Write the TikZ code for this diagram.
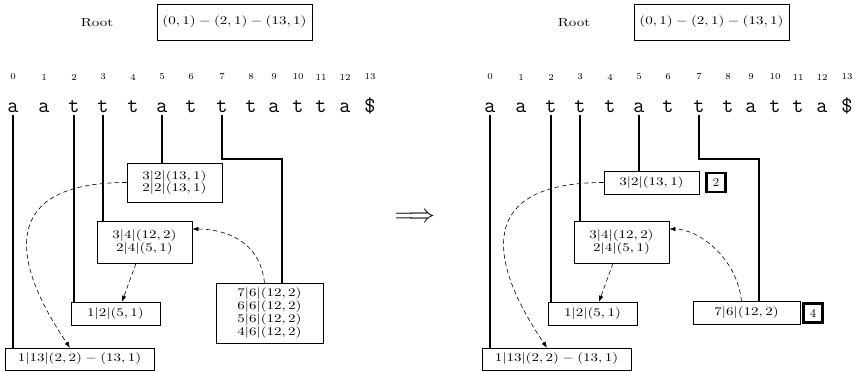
\documentclass[tikz,border=0pt]{standalone}
\usepackage{amsmath,amssymb}
\usetikzlibrary{arrows.meta,calc,positioning}

\newdimen\pxu \pxu=0.667pt
\newdimen\pyu \pyu=0.855pt

\tikzset{
  lbl/.style={yscale=.78},
  tnode/.style={draw,line width=.5pt,yscale=.78,inner sep=1pt,align=center,
    font=\fontsize{10}{9.5}\selectfont},
  badge/.style={draw,line width=1.6pt,minimum size=12.7pt,inner sep=0pt,font=\footnotesize},
  chr/.style={anchor=base,inner sep=2pt,font=\Large\ttfamily},
  idx/.style={inner sep=0pt,font=\fontsize{6}{7}\selectfont},
  sfx/.style={line width=1.2pt},
  suf/.style={densely dashed,-{Latex[length=4pt,width=3pt]}},
}

\begin{document}
\begin{tikzpicture}[x=0.667pt,y=-0.667pt]
  \useasboundingbox (0,0) rectangle (858,371);

  % both panels: string, root and the boxes that stay
  \foreach \p/\dx/\ta/\ha/\tb/\hb in {
      L/0/{$3|2|(13,1)$\\$2|2|(13,1)$}/39/{$7|6|(12,2)$\\$6|6|(12,2)$\\$5|6|(12,2)$\\$4|6|(12,2)$}/60,
      R/477/{$3|2|(13,1)$}/23/{$7|6|(12,2)$}/23}{
    \node[lbl] (\p root) at (\dx+97,23) {Root};
    \node[tnode,minimum width=155\pxu,minimum height=36\pyu] (\p rbox) at (\dx+234.5,22) {$(0,1)-(2,1)-(13,1)$};

    \foreach \i/\x/\c in {0/13/a,1/44/a,2/74/t,3/103/t,4/133/t,5/162/a,6/191/t,
        7/222/t,8/251/t,9/274/a,10/298/t,11/321/t,12/345/a,13/370/\$}{
      \node[idx] (\p n\i) at (\dx+\x,77) {\i};
      \node[chr] (\p a\i) at (\dx+\x,112) {\c};
    }

    \node[tnode,minimum width=95\pxu,minimum height=\ha\pyu] (\p b32) at (\dx+174.5,182.5) {\ta};
    \node[tnode,minimum width=95\pxu,minimum height=42\pyu] (\p b34) at (\dx+144.5,242) {$3|4|(12,2)$\\$2|4|(5,1)$};
    \node[tnode,minimum width=89\pxu,minimum height=23\pyu] (\p b12) at (\dx+115.5,313.5) {$1|2|(5,1)$};
    \node[tnode,minimum width=107\pxu,minimum height=\hb\pyu] (\p b76) at (\dx+269.5,313) {\tb};
    \node[tnode,minimum width=149\pxu,minimum height=22\pyu] (\p b113) at (\dx+79.5,359) {$1|13|(2,2)-(13,1)$};

    \foreach \k/\b in {0/b113,2/b12,3/b34,5/b32}
      \draw[sfx] (\p a\k.south) -- (\p a\k.south |- \p\b.north);
    \coordinate (\p bend) at (\dx+282,159);
    \draw[sfx] (\p a7.south) |- (\p bend) -- (\p bend |- \p b76.north);

    \draw[suf] (\p b32.west) .. controls +(-127,0) and +(-60,-88) .. ($(\p b113.north)+(-9.5,0)$);
    \draw[suf] ($(\p b34.south)+(-8.5,0)$) -- ($(\p b12.north)+(6.5,0)$);
    \draw[suf] ($(\p b76.north)+(-5,0)$) .. controls +(-5,-45) and +(28,0) .. ($(\p b34.east)+(0,-13)$);
  }

  \node[font=\LARGE] (imp) at (415,218) {$\Longrightarrow$};

  % counts on the right
  \node[badge,right=4pt of Rb32] (Rc2) {2};
  \node[badge,right=1.3pt of Rb76] (Rc4) {4};
\end{tikzpicture}
\end{document}
